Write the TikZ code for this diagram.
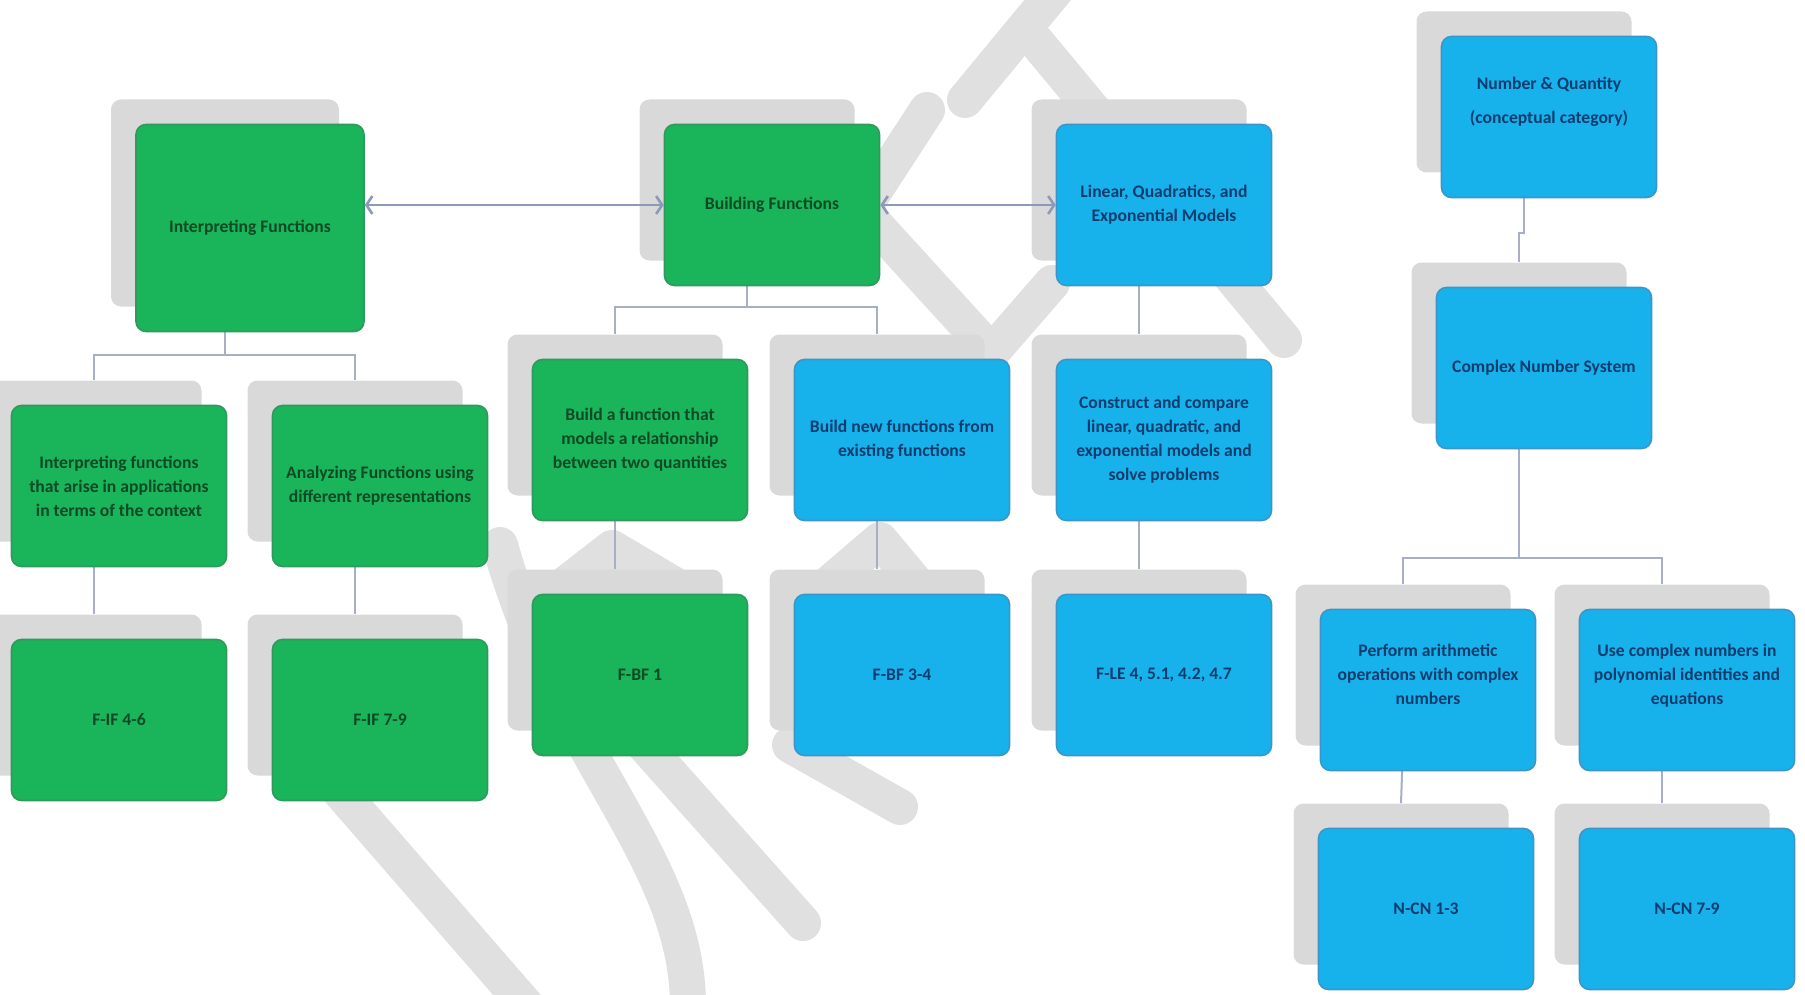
\documentclass[tikz,border=0pt]{standalone}
\usepackage{fontspec}
\setmainfont{Carlito}
\usetikzlibrary{arrows.meta}
\pgfdeclarelayer{wm}
\pgfdeclarelayer{shad}
\pgfdeclarelayer{conn}
\pgfsetlayers{wm,shad,conn,main}
\definecolor{boxgreen}{HTML}{1AB45A}
\definecolor{greenedge}{HTML}{2E9A5E}
\definecolor{greentext}{HTML}{0B4A22}
\definecolor{boxblue}{HTML}{17B2EC}
\definecolor{blueedge}{HTML}{3A96C8}
\definecolor{bluetext}{HTML}{0C3D6E}
\definecolor{shadgray}{HTML}{D9D9D9}
\definecolor{wmgray}{HTML}{E0E0E0}
\definecolor{conncolor}{HTML}{A6AFC6}
\definecolor{arrowcolor}{HTML}{8C9AB8}
\tikzset{
  basebox/.style={rounded corners=5pt, inner sep=0pt, align=center,
    font=\bfseries\fontsize{8.8}{12}\selectfont, line width=0.8pt},
  gbox/.style={basebox, fill=boxgreen, draw=greenedge, text=greentext},
  bbox/.style={basebox, fill=boxblue, draw=blueedge, text=bluetext},
  std/.style={minimum width=107.5pt, minimum height=80.5pt},
  big/.style={minimum width=114pt, minimum height=103.5pt},
  shadowbox/.style={rounded corners=5pt, inner sep=0pt, fill=shadgray},
  conn/.style={draw=conncolor, line width=1pt},
  biarrow/.style={draw=arrowcolor, line width=1.3pt,
    {Straight Barb[length=3pt,width=9pt]}-{Straight Barb[length=3pt,width=9pt]}},
  wmline/.style={draw=wmgray, line width=18pt, line cap=round, line join=round}
}
% name, x, y, colour style, size style, text
\newcommand{\cbox}[6]{%
  \begin{pgfonlayer}{shad}\node[shadowbox,#5] (s#1) at (#2-25,#3-25) {};\end{pgfonlayer}
  \node[#4,#5] (#1) at (#2,#3) {#6};}
\begin{document}
\begin{tikzpicture}[x=0.5pt,y=-0.5pt]
\useasboundingbox (0,0) rectangle (1805,995);
% watermark
\begin{pgfonlayer}{wm}
\draw[wmline] (965,100) -- (1060,-15);
\draw[wmline] (1029,33) -- (1284,340);
\draw[wmline] (927,110) -- (862,210) -- (985,345);
\draw[wmline] (1052,283) -- (985,360);
\draw[wmline] (330,780) -- (530,1010);
\draw[wmline] (500,545) .. controls (560,760) and (690,860) .. (688,1010);
\draw[wmline] (640,740) -- (803,923);
\draw[wmline] (790,745) -- (900,807);
\draw[wmline] (545,600) -- (612,548) -- (700,600);
\draw[wmline] (810,600) -- (880,540) -- (930,600);
\end{pgfonlayer}
% boxes
\cbox{IF}{250}{228}{gbox}{big}{Interpreting Functions}
\cbox{BF}{772}{205}{gbox}{std}{Building Functions}
\cbox{LQE}{1164}{205}{bbox}{std}{Linear, Quadratics, and\\Exponential Models}
\cbox{NQ}{1549}{117}{bbox}{std}{Number \& Quantity\\[5pt](conceptual category)\\[5pt]\mbox{}}
\cbox{CNS}{1544}{368}{bbox}{std}{Complex Number System}
\cbox{IFc}{119}{486}{gbox}{std}{Interpreting functions\\that arise in applications\\in terms of the context}
\cbox{AF}{380}{486}{gbox}{std}{Analyzing Functions using\\different representations}
\cbox{BaF}{640}{440}{gbox}{std}{Build a function that\\models a relationship\\between two quantities}
\cbox{BnF}{902}{440}{bbox}{std}{Build new functions from\\existing functions}
\cbox{CC}{1164}{440}{bbox}{std}{Construct and compare\\linear, quadratic, and\\exponential models and\\solve problems}
\cbox{FIFa}{119}{720}{gbox}{std}{F-IF 4-6}
\cbox{FIFb}{380}{720}{gbox}{std}{F-IF 7-9}
\cbox{FBFa}{640}{675}{gbox}{std}{F-BF 1}
\cbox{FBFb}{902}{675}{bbox}{std}{F-BF 3-4}
\cbox{FLE}{1164}{675}{bbox}{std}{F-LE 4, 5.1, 4.2, 4.7}
\cbox{PAO}{1428}{690}{bbox}{std}{Perform arithmetic\\operations with complex\\numbers\\[4pt]\mbox{}}
\cbox{UCN}{1687}{690}{bbox}{std}{Use complex numbers in\\polynomial identities and\\equations\\[4pt]\mbox{}}
\cbox{NCNa}{1426}{909}{bbox}{std}{N-CN 1-3}
\cbox{NCNb}{1687}{909}{bbox}{std}{N-CN 7-9}
% connectors
\begin{pgfonlayer}{conn}
\coordinate (j1) at (sIF.south |- 0,355);
\draw[conn] (sIF.south) -- (j1);
\draw[conn] (sIFc.north) |- (j1) -| (sAF.north);
\draw[conn] (sIFc.south) -- (sFIFa.north);
\draw[conn] (sAF.south) -- (sFIFb.north);
\coordinate (j2) at (sBF.south |- 0,307);
\draw[conn] (sBF.south) -- (j2);
\draw[conn] (sBaF.north) |- (j2) -| (sBnF.north);
\draw[conn] (sLQE.south) -- (sCC.north);
\draw[conn] (sBaF.south) -- (sFBFa.north);
\draw[conn] (sBnF.south) -- (sFBFb.north);
\draw[conn] (sCC.south) -- (sFLE.north);
\coordinate (j3) at (sNQ.south |- 0,233);
\draw[conn] (sNQ.south) -- (j3) -| (sCNS.north);
\coordinate (j4) at (sCNS.south |- 0,558);
\draw[conn] (sCNS.south) -- (j4);
\draw[conn] (sPAO.north) |- (j4) -| (sUCN.north);
\draw[conn] (sPAO.south) -- (sNCNa.north);
\draw[conn] (sUCN.south) -- (sNCNb.north);
\end{pgfonlayer}
% arrows
\draw[biarrow] (IF.east |- BF.west) -- (BF.west);
\draw[biarrow] (BF.east) -- (LQE.west);
\end{tikzpicture}
\end{document}
